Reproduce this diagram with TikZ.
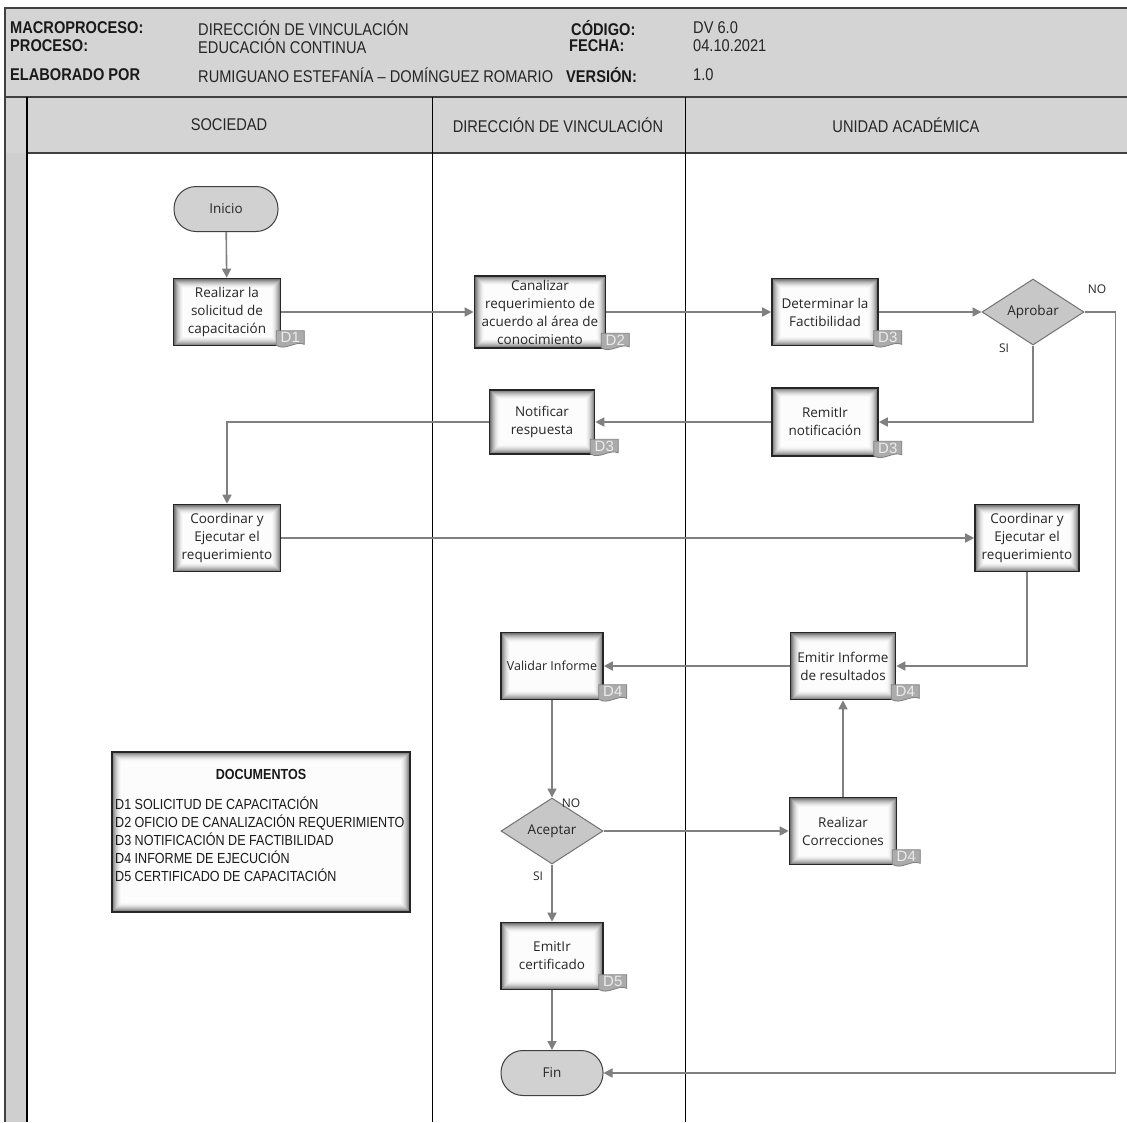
\documentclass[tikz,border=0pt]{standalone}
\usepackage{fontspec}
\setmainfont{Open Sans}
\newfontfamily\hdr[FakeStretch=0.86]{Liberation Sans}
\newfontfamily\tagf{Liberation Sans}
\usetikzlibrary{arrows.meta,shapes.geometric}
\newcommand\doctag[3]{%
  \coordinate (#2c) at ([shift={(9pt,7pt)}]#1.south east);
  \filldraw[tagshape] ([shift={(-14pt,8.5pt)}]#2c) -- ([shift={(14pt,8.5pt)}]#2c)
    -- ([shift={(14pt,-5pt)}]#2c) .. controls ([shift={(5pt,-1pt)}]#2c) and ([shift={(-5pt,-12pt)}]#2c) .. ([shift={(-14pt,-6pt)}]#2c) -- cycle;
  \node[tagtext] (#2) at ([shift={(0pt,1.5pt)}]#2c) {#3};
}
\tikzset{
  hdrb/.style={font=\hdr\bfseries\fontsize{17}{20}\selectfont, text=black!90, inner sep=0pt, anchor=west},
  hdrr/.style={font=\hdr\fontsize{17}{20}\selectfont, text=black!85, inner sep=0pt, anchor=west},
  lanehdr/.style={font=\hdr\fontsize{17}{20}\selectfont, text=black!85, inner sep=0pt},
  conn/.style={draw=black!50, line width=1.6pt, -{Triangle[length=9pt,width=9pt]}},
  procbox/.style={draw=black!85, line width=1.6pt, fill=white, align=center, inner sep=1pt,
    font=\fontsize{13.5}{18}\selectfont, text=black!85,
    path picture={
      \foreach \i/\c in {0/55,1/45,2/36,3/28,4/21,5/15,6/10,7/6,8/3}
        \fill[black!\c] ([shift={(\i pt,-\i pt)}]path picture bounding box.north west) rectangle ([shift={(-\i pt,\i pt)}]path picture bounding box.south east);
      \fill[black!1] ([shift={(9pt,-9pt)}]path picture bounding box.north west) rectangle ([shift={(-9pt,9pt)}]path picture bounding box.south east);
    }},
  term/.style={draw=black!75, line width=1pt, fill=black!18, rounded corners=22pt,
    minimum width=104pt, minimum height=45pt, font=\fontsize{13.5}{15}\selectfont, text=black!85},
  decision/.style={diamond, draw=black!55, line width=1pt, fill=black!22, aspect=1.55, inner sep=0pt,
    minimum width=102pt, minimum height=66pt, font=\fontsize{13.5}{15}\selectfont, text=black!85},
  tagshape/.style={fill=black!33, draw=black!50, line width=0.8pt},
  tagtext/.style={font=\tagf\fontsize{15}{15}\selectfont, text=black!8, inner sep=0pt},
  lbl/.style={font=\fontsize{12}{13}\selectfont, text=black!85, inner sep=0pt},
  docs/.style={font=\hdr\fontsize{14.6}{17.8}\selectfont, text=black!90, inner sep=0pt, align=left},
}
\begin{document}
\begin{tikzpicture}[x=1pt,y=-1pt]
\useasboundingbox (0,0) rectangle (1127,1122);
\fill[white] (0,0) rectangle (1127,1122);
% header band
\fill[black!17] (5,8) rectangle (1127,153);
\fill[black!19] (6,153) rectangle (27,1122);
\draw[black!75, line width=1.6pt] (1127,8) -- (5,8) -- (5,1122);
\draw[black!75, line width=1.6pt] (5,97) -- (1127,97);
\draw[black!75, line width=1.4pt] (27,153) -- (1127,153);
\draw[black, line width=1.2pt] (27,97) -- (27,1122);
\draw[black, line width=1pt] (432,97) -- (432,1122);
\draw[black, line width=1pt] (685,97) -- (685,1122);
% header texts
\node[hdrb] (hmac) at (10,28) {MACROPROCESO:};
\node[hdrb] (hpro) at (10,46) {PROCESO:};
\node[hdrb] (helab) at (10,75) {ELABORADO POR};
\node[hdrr] (vmac) at (198,28) {DIRECCIÓN DE VINCULACIÓN};
\node[hdrr] (vpro) at (198,46) {EDUCACIÓN CONTINUA};
\node[hdrr] (velab) at (198,75) {RUMIGUANO ESTEFANÍA – DOMÍNGUEZ ROMARIO};
\node[hdrb] (hcod) at (571,28) {CÓDIGO:};
\node[hdrb] (hfec) at (569,46) {FECHA:};
\node[hdrb] (hver) at (566,75) {VERSIÓN:};
\node[hdrr] (vcod) at (693,28) {DV 6.0};
\node[hdrr] (vfec) at (693,46) {04.10.2021};
\node[hdrr] (vver) at (693,75) {1.0};
% lane headers
\node[lanehdr] (l1) at (229,125) {SOCIEDAD};
\node[lanehdr] (l2) at (558,125) {DIRECCIÓN DE VINCULACIÓN};
\node[lanehdr] (l3) at (906,125) {UNIDAD ACADÉMICA};
% nodes
\node[term] (ini) at (226,209) {Inicio};
\node[procbox, minimum width=107pt, minimum height=67pt] (rea) at (227,312) {Realizar la\\solicitud de\\capacitación};
\node[procbox, minimum width=131pt, minimum height=72pt] (can) at (540,312) {Canalizar\\requerimiento de\\acuerdo al área de\\conocimiento};
\node[procbox, minimum width=106pt, minimum height=67pt] (det) at (825,312) {Determinar la\\Factibilidad};
\node[decision] (apr) at (1033,312) {Aprobar};
\node[procbox, minimum width=105pt, minimum height=64pt] (noti) at (542,422) {Notificar\\respuesta};
\node[procbox, minimum width=106pt, minimum height=68pt] (rem) at (825,422) {RemitIr\\notificación};
\node[procbox, minimum width=107pt, minimum height=67pt] (coL) at (227,538) {Coordinar y\\Ejecutar el\\requerimiento};
\node[procbox, minimum width=104pt, minimum height=67pt] (coR) at (1027,538) {Coordinar y\\Ejecutar el\\requerimiento};
\node[procbox, minimum width=102pt, minimum height=67pt, font=\fontsize{12.5}{18}\selectfont] (val) at (552,666) {Validar Informe};
\node[procbox, minimum width=105pt, minimum height=67pt] (emi) at (843,666) {Emitir Informe\\de resultados};
\node[decision] (ace) at (552,831) {Aceptar};
\node[procbox, minimum width=107pt, minimum height=67pt] (cor) at (843,831) {Realizar\\Correcciones};
\node[procbox, minimum width=102pt, minimum height=67pt] (cert) at (552,956) {EmitIr\\certificado};
\node[term, minimum width=102pt] (fin) at (552,1073) {Fin};
% documents box
\node[procbox, minimum width=298pt, minimum height=160pt] (docbox) at (261,832) {};
\node[font=\hdr\bfseries\fontsize{14.6}{16}\selectfont, text=black!90, inner sep=0pt] (doctitle) at (261,774) {DOCUMENTOS};
\node[docs, anchor=north west] (doclist) at (115,797) {D1 SOLICITUD DE CAPACITACIÓN\\D2 OFICIO DE CANALIZACIÓN REQUERIMIENTO\\D3 NOTIFICACIÓN DE FACTIBILIDAD\\D4 INFORME DE EJECUCIÓN\\D5 CERTIFICADO DE CAPACITACIÓN};
% tags
\doctag{rea}{t1}{D1}
\doctag{can}{t2}{D2}
\doctag{det}{t3}{D3}
\doctag{noti}{t4}{D3}
\doctag{rem}{t5}{D3}
\doctag{val}{t6}{D4}
\doctag{emi}{t7}{D4}
\doctag{cor}{t8}{D4}
\doctag{cert}{t9}{D5}
% labels
\node[lbl] (no1) at (1097,289) {NO};
\node[lbl] (si1) at (1004,348) {SI};
\node[lbl] (no2) at (571,803) {NO};
\node[lbl] (si2) at (538,876) {SI};
% connectors
\draw[conn] (ini) -- (rea);
\draw[conn] (rea) -- (can);
\draw[conn] (can) -- (det);
\draw[conn] (det) -- (apr);
\draw[conn] (apr.east) -- ++(31,0) |- (fin.east);
\draw[conn] (apr.south) |- (rem.east);
\draw[conn] (rem) -- (noti);
\draw[conn] (noti.west) -| (coL.north);
\draw[conn] (coL) -- (coR);
\draw[conn] (coR.south) |- (emi.east);
\draw[conn] (emi) -- (val);
\draw[conn] (val) -- (ace);
\draw[conn] (ace) -- (cor);
\draw[conn] (cor) -- (emi);
\draw[conn] (ace) -- (cert);
\draw[conn] (cert) -- (fin);
\end{tikzpicture}
\end{document}
